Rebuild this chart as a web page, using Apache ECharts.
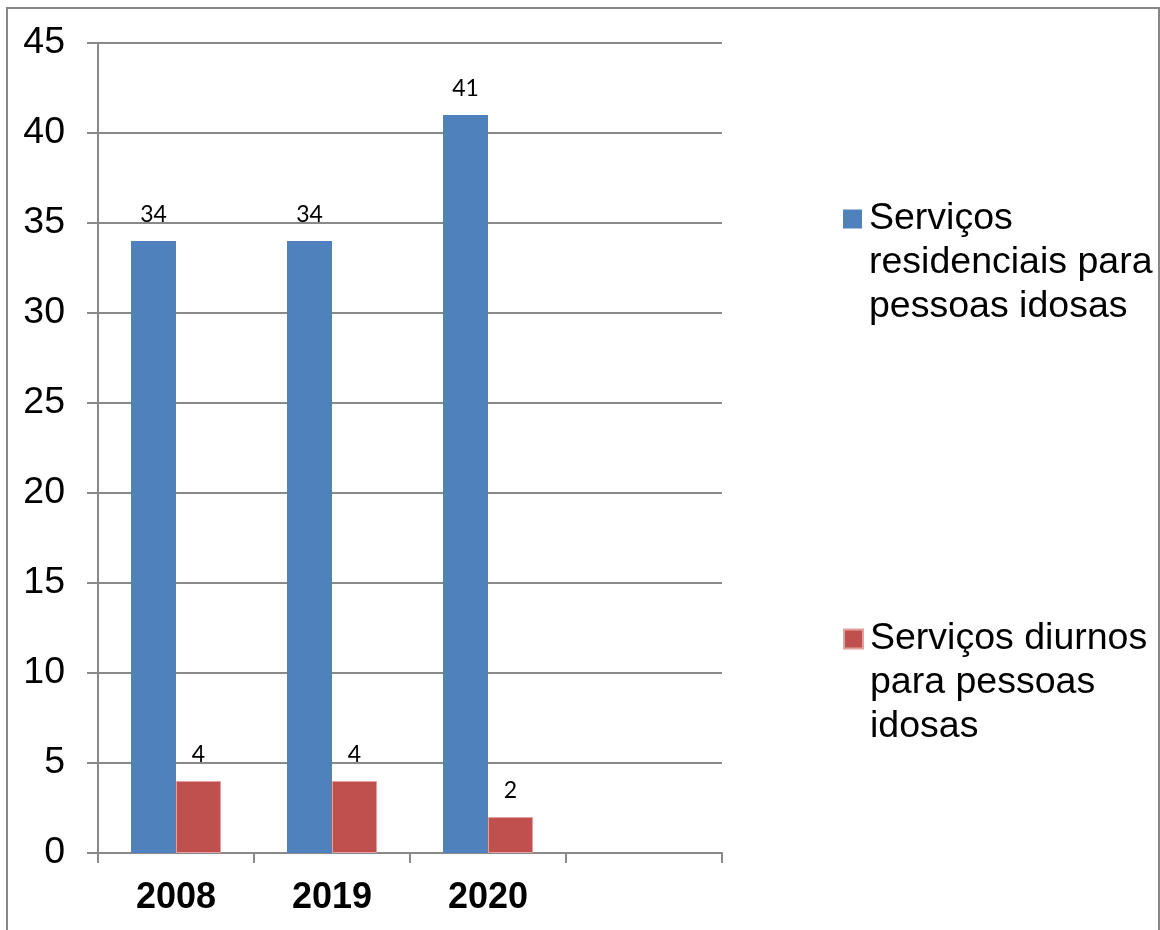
<!DOCTYPE html>
<html>
<head>
<meta charset="utf-8">
<script src="https://cdn.jsdelivr.net/npm/echarts@6/dist/echarts.min.js"></script>
<style>
html,body{margin:0;padding:0;background:#fff;}
#chart{width:1160px;height:930px;}
</style>
</head>
<body>
<div id="chart"></div>
<script>
const categories = ['2008', '2019', '2020', ''];
const seriesNames = ['Serviços residenciais para pessoas idosas', 'Serviços diurnos para pessoas idosas'];
const residenciais = [34, 34, 41, null];
const diurnos = [4, 4, 2, null];
const yTicks = {min: 0, max: 45, interval: 5};

const wrapped = {};
wrapped[seriesNames[0]] = 'Serviços\nresidenciais para\npessoas idosas';
wrapped[seriesNames[1]] = 'Serviços diurnos\npara pessoas\nidosas';

const chart = echarts.init(document.getElementById('chart'), null, {renderer: 'canvas'});
const legendText = {fontFamily: 'Liberation Sans, Arial, sans-serif', fontSize: 37.5, color: '#000', lineHeight: 44, padding: [0, 0, 0, 2]};
const labelStyle = {show: true, position: 'top', distance: 15, fontFamily: 'Lato, sans-serif', fontSize: 23, color: '#000'};
chart.setOption({
  animation: false,
  backgroundColor: '#fff',
  graphic: [{
    type: 'rect', silent: true,
    shape: {x: 7, y: 8, width: 1152, height: 940},
    style: {fill: 'none', stroke: '#878787', lineWidth: 2}
  }],
  grid: {left: 98, right: 438, top: 43, bottom: 77, containLabel: false},
  legend: [{
    data: [seriesNames[0]], orient: 'vertical', left: 843, top: 109, padding: 0,
    itemWidth: 19, itemHeight: 19, icon: 'rect',
    formatter: n => '\n\n' + wrapped[n], textStyle: legendText
  }, {
    data: [seriesNames[1]], orient: 'vertical', left: 843, top: 529, padding: 0,
    itemWidth: 19, itemHeight: 19, icon: 'rect',
    formatter: n => '\n\n' + wrapped[n], textStyle: legendText
  }],
  xAxis: {
    type: 'category', data: categories, boundaryGap: true,
    axisLine: {show: true, lineStyle: {color: '#898989', width: 2}},
    axisTick: {show: true, length: 10, alignWithLabel: false, lineStyle: {color: '#898989', width: 2}},
    axisLabel: {fontFamily: 'Liberation Sans, Arial, sans-serif', fontSize: 36, fontWeight: 'bold', color: '#000', margin: 27, interval: 0},
    splitLine: {show: false}
  },
  yAxis: {
    type: 'value', min: yTicks.min, max: yTicks.max, interval: yTicks.interval,
    axisLine: {show: true, lineStyle: {color: '#898989', width: 2}},
    axisTick: {show: true, length: 11, lineStyle: {color: '#898989', width: 2}},
    axisLabel: {fontFamily: 'Liberation Sans, Arial, sans-serif', fontSize: 37.5, color: '#000', margin: 33},
    splitLine: {show: true, lineStyle: {color: '#898989', width: 2}}
  },
  series: [{
    name: seriesNames[0], type: 'bar', data: residenciais, barWidth: 45, barGap: '0%',
    itemStyle: {color: '#4F81BD'}, label: labelStyle
  }, {
    name: seriesNames[1], type: 'bar', data: diurnos, barWidth: 45, barGap: '0%',
    itemStyle: {color: '#C0504D', borderColor: '#E3A09E', borderWidth: 1}, label: labelStyle
  }]
});
</script>
</body>
</html>
